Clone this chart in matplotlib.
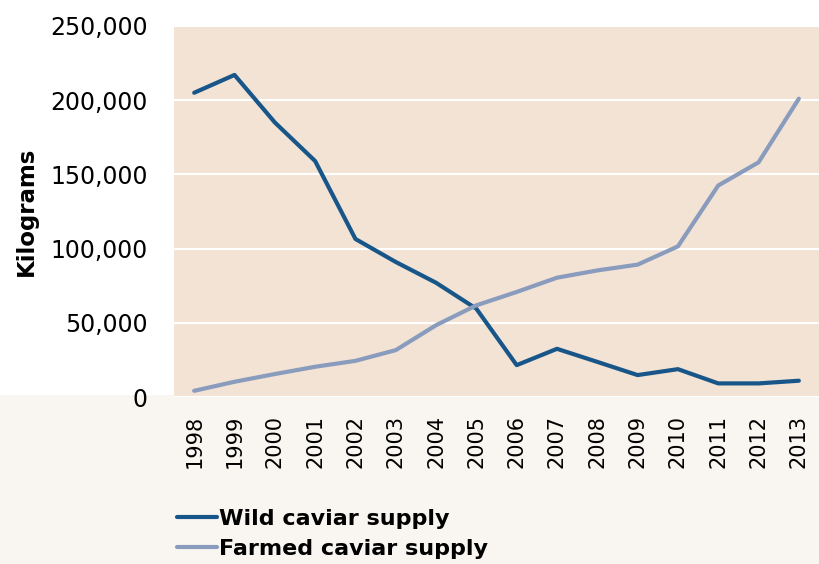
"""Wild versus farmed caviar supply, 1998-2013."""

import matplotlib
import matplotlib.pyplot as plt
from matplotlib.patches import Rectangle
from matplotlib.ticker import FuncFormatter

matplotlib.use("Agg")

years = [str(y) for y in range(1998, 2014)]
wild_supply = [205000, 217000, 185000, 159000, 106500, 91000, 77000, 59500,
               21500, 32500, 23700, 14800, 18800, 9200, 9200, 11000]
farmed_supply = [4200, 10300, 15500, 20400, 24400, 31600, 48400, 61800,
                 70800, 80400, 85300, 89200, 101500, 142500, 158100, 201000]

WILD_COLOR = "#18568a"
FARMED_COLOR = "#8a9cbd"
PLOT_BG = "#f3e3d4"

plt.rcParams["font.family"] = ["DejaVu Sans"]

fig = plt.figure(figsize=(8.19, 5.64), dpi=100)
fig.patch.set_facecolor("white")
fig.patches.append(Rectangle((0, 0), 1, 0.30, transform=fig.transFigure,
                             facecolor="#f9f6f2", edgecolor="none", zorder=-1))

axis = fig.add_axes([0.2125, 0.296, 0.7875, 0.658])
axis.set_facecolor(PLOT_BG)

x = range(len(years))
axis.plot(x, wild_supply, color=WILD_COLOR, linewidth=3,
          solid_capstyle="round", label="Wild caviar supply", zorder=3)
axis.plot(x, farmed_supply, color=FARMED_COLOR, linewidth=3,
          solid_capstyle="round", label="Farmed caviar supply", zorder=3)

axis.set_xlim(-0.5, len(years) - 0.5)
axis.set_ylim(0, 250000)
axis.set_yticks(range(0, 250001, 50000))
axis.yaxis.set_major_formatter(FuncFormatter(lambda v, _: f"{int(v):,}"))
axis.set_xticks(list(x))
axis.set_xticklabels(years, rotation=90)
axis.grid(True, axis="y", color="white", linewidth=1.5)
axis.set_axisbelow(True)
for spine in axis.spines.values():
    spine.set_visible(False)
axis.tick_params(axis="y", length=0, pad=19, labelsize=17)
axis.tick_params(axis="x", length=0, pad=13, labelsize=15)
axis.set_ylabel("Kilograms", fontsize=16.5, fontweight="bold", labelpad=9)

legend = fig.legend(loc="upper left", bbox_to_anchor=(0.205, 0.113),
                    frameon=False, handlelength=1.8, handletextpad=0.08,
                    labelspacing=0.45, borderaxespad=0,
                    prop={"size": 16, "weight": "bold"})

fig.savefig("out.png", dpi=100)
plt.close(fig)
